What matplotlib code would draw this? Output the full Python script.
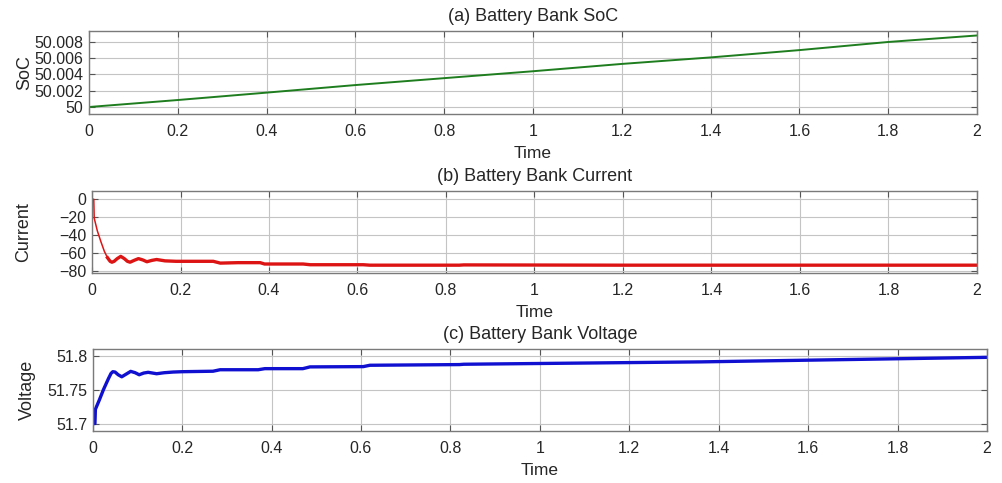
import matplotlib
matplotlib.use("Agg")
import matplotlib.pyplot as plt

plt.rcParams["font.family"] = ["Liberation Sans", "DejaVu Sans"]

# (a) SoC
t_soc = [0.0, 0.2, 0.4, 0.6, 0.8, 1.0, 1.2, 1.4, 1.6, 1.8, 2.0]
soc = [50.0, 50.00086, 50.00177, 50.0027, 50.00355, 50.0044, 50.0053,
       50.0061, 50.0070, 50.0080, 50.0088]

# (b) Current
t_cur = [0.0, 0.004, 0.005, 0.012, 0.02, 0.028, 0.035, 0.041, 0.045, 0.05,
         0.057, 0.065, 0.073, 0.08, 0.086, 0.095, 0.105, 0.115, 0.124, 0.135,
         0.146, 0.165, 0.19, 0.23, 0.274, 0.29, 0.33, 0.38, 0.39, 0.477, 0.493,
         0.613, 0.628, 0.83, 0.84, 1.2, 1.6, 2.0]
cur = [0.0, 0.0, -21.0, -35.0, -47.0, -58.0, -65.0, -69.0, -70.0, -69.0,
       -66.0, -63.5, -66.0, -69.0, -70.0, -68.0, -66.0, -67.5, -69.5, -68.0,
       -67.0, -68.5, -69.0, -69.0, -69.0, -71.0, -70.5, -70.5, -72.0, -72.0,
       -72.8, -72.8, -73.3, -73.3, -73.0, -73.3, -73.3, -73.3]

# (c) Voltage
t_volt = [0.0, 0.005, 0.006, 0.015, 0.024, 0.035, 0.041, 0.045, 0.05, 0.057,
          0.065, 0.075, 0.085, 0.095, 0.104, 0.114, 0.124, 0.134, 0.143, 0.16,
          0.18, 0.2, 0.269, 0.285, 0.37, 0.385, 0.47, 0.486, 0.605, 0.62, 0.82,
          0.83, 1.36, 2.0]
volt = [51.70, 51.70, 51.721, 51.735, 51.750, 51.766, 51.774, 51.7765, 51.776,
        51.772, 51.769, 51.773, 51.777, 51.775, 51.772, 51.7745, 51.7756,
        51.7745, 51.7735, 51.775, 51.776, 51.7765, 51.7772, 51.7794, 51.7794,
        51.781, 51.781, 51.7836, 51.784, 51.786, 51.787, 51.7875, 51.791,
        51.7977]

xticks = [0, 0.2, 0.4, 0.6, 0.8, 1, 1.2, 1.4, 1.6, 1.8, 2]
xticklabels = ["0", "0.2", "0.4", "0.6", "0.8", "1", "1.2", "1.4", "1.6", "1.8", "2"]

W, H = 1003, 483
fig = plt.figure(figsize=(W / 100, H / 100), dpi=100)


def panel(l, r, top, bot):
    return fig.add_axes([l / W, 1 - bot / H, (r - l) / W, (bot - top) / H])


def estilo(ax, titulo, ylab, lx):
    ax.set_xlim(0, 2)
    ax.set_xticks(xticks)
    ax.set_xticklabels(xticklabels)
    ax.grid(True, color="#c4c4c4", lw=0.8)
    ax.set_axisbelow(True)
    for s in ax.spines.values():
        s.set_color("#7a7a7a")
        s.set_linewidth(1.0)
    ax.tick_params(direction="in", length=4, width=0.8, color="#555555",
                   top=True, right=True, labelsize=11.5, labelcolor="#262626")
    ax.tick_params(axis="x", pad=7)
    ax.tick_params(axis="y", pad=4)
    ax.set_title(titulo, fontsize=13, color="#262626", pad=7)
    ax.set_xlabel("Time", fontsize=12.5, color="#262626", labelpad=5)
    ax.set_ylabel(ylab, fontsize=13, color="#262626")
    ax.yaxis.set_label_coords(lx, 0.5)


ax_a = panel(89, 977, 31, 114)
ax_a.plot(t_soc, soc, color="#1e7d1e", lw=1.4)
ax_a.set_ylim(49.99914, 50.00935)
ax_a.set_yticks([50.0, 50.002, 50.004, 50.006, 50.008])
ax_a.set_yticklabels(["50", "50.002", "50.004", "50.006", "50.008"])
estilo(ax_a, "(a) Battery Bank SoC", "SoC", -0.063)

ax_b = panel(92, 977, 191, 273)
ax_b.plot(t_cur[:7], cur[:7], color="#dd1414", lw=1.1)
ax_b.plot(t_cur[6:], cur[6:], color="#dd1414", lw=2.4)
ax_b.set_ylim(-82, 9.2)
ax_b.set_yticks([-80, -60, -40, -20, 0])
estilo(ax_b, "(b) Battery Bank Current", "Current", -0.068)

ax_c = panel(92.7, 987, 349, 431)
ax_c.plot(t_volt, volt, color="#1010d0", lw=2.4)
ax_c.set_ylim(51.689, 51.81)
ax_c.set_yticks([51.7, 51.75, 51.8])
ax_c.set_yticklabels(["51.7", "51.75", "51.8"])
estilo(ax_c, "(c) Battery Bank Voltage", "Voltage", -0.064)

fig.savefig("out.png", dpi=100)
